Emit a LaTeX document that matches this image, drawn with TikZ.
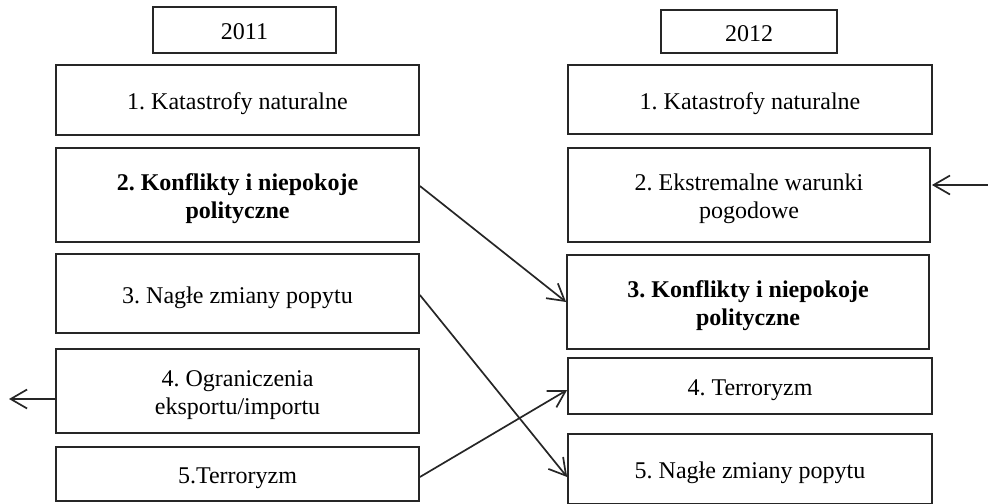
\documentclass[tikz,border=0pt]{standalone}
\usepackage{fontspec}
\setmainfont{Liberation Serif}
\usetikzlibrary{arrows.meta,calc}
\newcommand\lowtxt[1]{\raisebox{-2pt}[\height][\depth]{\begin{tabular}{@{}c@{}}#1\end{tabular}}}
\begin{document}
\begin{tikzpicture}[x=0.5pt,y=-0.5pt,
  box/.style={draw=black!85,line width=0.9pt,rectangle,inner sep=0pt,align=center,
    font=\fontsize{12}{14}\selectfont\frenchspacing,minimum width=181.5pt},
  conn/.style={draw=black!85,line width=0.85pt,-{Straight Barb[length=8.2pt,width=9.5pt,line width=0.85pt]}}]
\clip (0,0) rectangle (988,503);
% 2011 column
\node[box,minimum width=91.5pt,minimum height=23pt] (y11) at (244.5,30) {\lowtxt{2011}};
\node[box,minimum height=35pt] (L1) at (237.5,100) {\lowtxt{1. Katastrofy naturalne}};
\node[box,minimum height=47pt] (L2) at (237.5,195) {\lowtxt{\textbf{2. Konflikty i niepokoje}\\\textbf{polityczne}}};
\node[box,minimum height=39.5pt] (L3) at (237.5,293.5) {\lowtxt{3. Nagłe zmiany popytu}};
\node[box,minimum height=42pt] (L4) at (237.5,391) {\lowtxt{4. Ograniczenia\\eksportu/importu}};
\node[box,minimum height=27pt] (L5) at (237.5,474) {\lowtxt{5.Terroryzm}};
% 2012 column
\node[box,minimum width=88pt,minimum height=21.5pt] (y12) at (749,31.5) {\lowtxt{2012}};
\node[box,minimum width=182pt,minimum height=34.5pt] (R1) at (750,99.5) {\lowtxt{1. Katastrofy naturalne}};
\node[box,minimum width=181pt,minimum height=47pt] (R2) at (749,195) {\lowtxt{2. Ekstremalne warunki\\pogodowe}};
\node[box,minimum width=181pt,minimum height=47pt] (R3) at (748,302) {\lowtxt{\textbf{3. Konflikty i niepokoje}\\\textbf{polityczne}}};
\node[box,minimum width=182pt,minimum height=28pt] (R4) at (750,386) {\lowtxt{4. Terroryzm}};
\node[box,minimum width=182pt,minimum height=35pt] (R5) at (750,469) {\lowtxt{5. Nagłe zmiany popytu}};
% free ends
\coordinate (outL) at (9,399);
\coordinate (inR) at (988,185);
% connectors
\draw[conn] ($(L2.east)+(0,-9)$) -- (R3.west);
\draw[conn] ($(L3.east)+(0,1.5)$) -- ($(R5.west)+(0,8)$);
\draw[conn] ($(L5.east)+(0,3)$) -- ($(R4.west)+(0,4)$);
\draw[conn] ($(L4.west)+(0,8)$) -- (outL);
\draw[conn] (inR) -- ($(R2.east)+(1,-10)$);
\end{tikzpicture}
\end{document}
